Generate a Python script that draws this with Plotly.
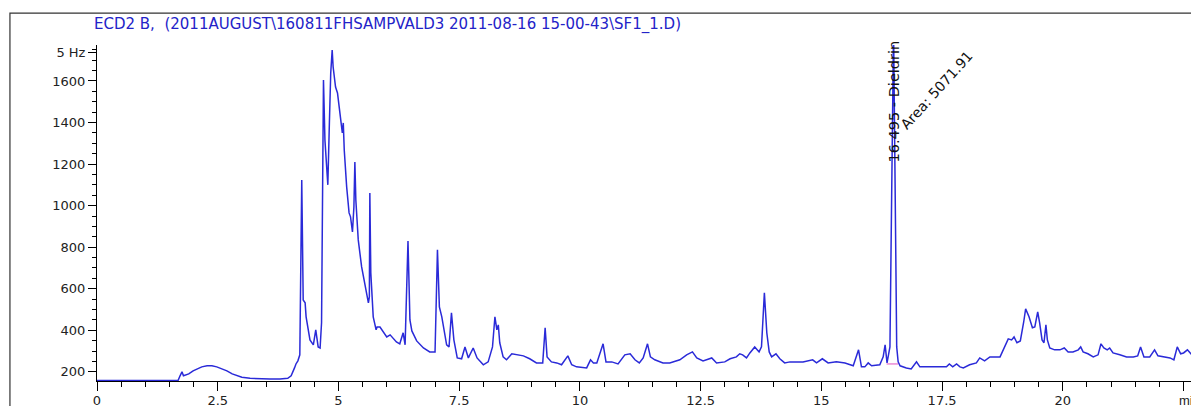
import plotly.graph_objects as go

# Retention time (min) and detector signal (Hz)
time_min = [
    0.00, 1.68, 1.72, 1.76, 1.79, 1.84, 1.90, 1.99, 2.07, 2.17, 2.28, 2.38, 2.48, 2.59, 2.69, 2.80,
    2.90, 3.00, 3.17, 3.37, 3.58, 3.79, 3.95, 4.02, 4.06, 4.09, 4.12, 4.16, 4.20, 4.24, 4.27, 4.31,
    4.33, 4.37, 4.41, 4.48, 4.53, 4.58, 4.62, 4.65, 4.69, 4.72, 4.76, 4.78, 4.81, 4.84, 4.87, 4.89,
    4.94, 4.98, 5.03, 5.08, 5.10, 5.12, 5.17, 5.22, 5.25, 5.29, 5.32, 5.34, 5.36, 5.38, 5.41, 5.48,
    5.55, 5.62, 5.64, 5.65, 5.67, 5.72, 5.78, 5.80, 5.86, 5.93, 6.00, 6.07, 6.13, 6.20, 6.27, 6.34,
    6.38, 6.44, 6.48, 6.52, 6.62, 6.76, 6.89, 7.00, 7.05, 7.09, 7.14, 7.18, 7.24, 7.29, 7.34, 7.39,
    7.46, 7.55, 7.62, 7.69, 7.79, 7.87, 8.00, 8.10, 8.19, 8.24, 8.28, 8.31, 8.34, 8.41, 8.48, 8.59,
    8.69, 8.83, 8.96, 9.10, 9.23, 9.28, 9.32, 9.41, 9.52, 9.62, 9.75, 9.83, 9.93, 10.14, 10.22, 10.28,
    10.35, 10.41, 10.48, 10.54, 10.66, 10.79, 10.93, 11.04, 11.14, 11.23, 11.31, 11.40, 11.46, 11.55,
    11.72, 11.86, 12.07, 12.21, 12.33, 12.42, 12.55, 12.73, 12.83, 13.00, 13.11, 13.24, 13.31, 13.37,
    13.45, 13.52, 13.62, 13.71, 13.76, 13.82, 13.87, 13.92, 13.97, 14.06, 14.14, 14.24, 14.35, 14.49,
    14.62, 14.82, 14.90, 15.02, 15.14, 15.31, 15.49, 15.66, 15.77, 15.83, 15.90, 15.97, 16.04, 16.21,
    16.28, 16.32, 16.36, 16.42, 16.45, 16.495, 16.53, 16.56, 16.59, 16.63, 16.76, 16.86, 16.97, 17.04,
    17.18, 17.38, 17.59, 17.65, 17.72, 17.80, 17.87, 17.94, 18.07, 18.21, 18.28, 18.38, 18.49, 18.70,
    18.80, 18.87, 18.94, 18.99, 19.05, 19.12, 19.19, 19.23, 19.30, 19.37, 19.42, 19.48, 19.52, 19.57,
    19.61, 19.65, 19.68, 19.73, 19.83, 19.94, 20.03, 20.11, 20.21, 20.32, 20.37, 20.42, 20.52, 20.63,
    20.73, 20.79, 20.85, 20.92, 20.97, 21.04, 21.18, 21.32, 21.46, 21.55, 21.61, 21.68, 21.80, 21.90,
    21.97, 22.08, 22.22, 22.30, 22.37, 22.44, 22.50, 22.58, 22.67, 22.74, 22.82,
]
signal_hz = [
    159, 159, 181, 200, 181, 186, 190, 205, 214, 224, 229, 229, 224, 214, 205, 190,
    181, 174, 169, 166, 166, 166, 169, 181, 200, 219, 238, 253, 282, 1123, 546, 532,
    465, 402, 354, 330, 402, 320, 315, 436, 1605, 1316, 1157, 1100, 1378, 1638, 1749, 1667,
    1571, 1542, 1446, 1350, 1398, 1268, 1090, 965, 946, 873, 994, 1210, 1027, 946, 835, 705,
    609, 532, 561, 1061, 676, 465, 402, 416, 416, 392, 368, 378, 364, 344, 335, 388,
    330, 830, 450, 397, 349, 315, 296, 296, 787, 513, 465, 416, 330, 320, 484, 354,
    267, 263, 320, 267, 315, 267, 234, 248, 320, 465, 402, 426, 340, 272, 258, 287,
    282, 277, 263, 243, 243, 412, 272, 248, 243, 234, 277, 234, 224, 219, 258, 243,
    243, 291, 335, 248, 248, 238, 282, 287, 258, 243, 267, 335, 272, 258,
    243, 243, 258, 282, 296, 267, 253, 267, 243, 248, 263, 272, 287, 282,
    267, 291, 320, 296, 320, 580, 388, 296, 272, 287, 263, 243, 248, 248,
    248, 258, 243, 263, 243, 248, 243, 229, 306, 224, 224, 243, 229, 234,
    272, 330, 243, 320, 1027, 1850, 1027, 320, 248, 229, 219, 214, 248, 224,
    224, 224, 224, 238, 224, 238, 224, 219, 234, 243, 267, 253, 272, 272,
    320, 359, 354, 368, 340, 349, 440, 503, 465, 412, 416, 489, 436, 354,
    340, 426, 354, 315, 306, 306, 315, 296, 296, 306, 320, 296, 287, 272,
    282, 335, 315, 306, 315, 291, 282, 272, 272, 277, 320, 272, 272, 306,
    277, 272, 267, 258, 320, 287, 291, 306, 282, 277, 272,
]

# Integration baseline drawn under the Dieldrin peak
baseline_t = [16.35, 16.59]
baseline_v = [238, 238]

# Axis ticks
x_tick_vals = [0, 2.5, 5, 7.5, 10, 12.5, 15, 17.5, 20, 22.5]
x_tick_text = ["0", "2.5", "5", "7.5", "10", "12.5", "15", "17.5", "20", ""]
y_tick_vals = [200, 400, 600, 800, 1000, 1200, 1400, 1600, 1735]
y_tick_text = ["200", "400", "600", "800", "1000", "1200", "1400", "1600", "5 Hz"]

peak_time = 16.495
peak_label = "16.495 - Dieldrin"
area_label = "Area: 5071.91"
title_text = "ECD2 B,  (2011AUGUST\\160811FHSAMPVALD3 2011-08-16 15-00-43\\SF1_1.D)"

FONT = "DejaVu Sans, Liberation Sans, Arial, sans-serif"

fig = go.Figure()
fig.add_trace(go.Scatter(
    x=time_min, y=signal_hz, mode="lines",
    line=dict(color="#2a2ad8", width=1.5), hoverinfo="skip", showlegend=False,
))
fig.add_trace(go.Scatter(
    x=baseline_t, y=baseline_v, mode="lines",
    line=dict(color="#e050c0", width=1), hoverinfo="skip", showlegend=False,
))

# The page body adds an 8 px offset, so the figure is sized/positioned to compensate
fig.update_layout(
    width=1191, height=398,
    margin=dict(l=89, r=0, t=37, b=25),
    paper_bgcolor="white", plot_bgcolor="white",
    font=dict(family=FONT, size=13, color="#222"),
    showlegend=False,
)
fig.update_xaxes(
    range=[0, 22.82], showgrid=False, zeroline=False,
    showline=True, linecolor="black", linewidth=1,
    tickmode="array", tickvals=x_tick_vals, ticktext=x_tick_text,
    ticks="outside", ticklen=9, tickcolor="black", tickwidth=1,
    minor=dict(tickmode="linear", tick0=0, dtick=0.5, ticks="outside", ticklen=5,
               tickcolor="black", tickwidth=1),
    tickfont=dict(family=FONT, size=13, color="#222"),
    ticklabelstandoff=-2,
    automargin=False,
)
fig.update_yaxes(
    range=[156, 1773], showgrid=False, zeroline=False,
    showline=True, linecolor="black", linewidth=1,
    tickmode="array", tickvals=y_tick_vals, ticktext=y_tick_text,
    ticks="outside", ticklen=8, tickcolor="black", tickwidth=1,
    minor=dict(tickmode="linear", tick0=0, dtick=50, ticks="outside", ticklen=4,
               tickcolor="black", tickwidth=1),
    tickfont=dict(family=FONT, size=13, color="#222"),
    automargin=False,
)

# Outer frame of the report panel
fig.add_shape(type="rect", xref="paper", yref="paper",
              x0=-0.079, y0=-0.3, x1=1.05, y1=1.095,
              line=dict(color="#333", width=1.2), layer="above")

fig.add_annotation(text=title_text, xref="paper", yref="paper",
                   x=-0.0045, y=1.06, xanchor="left", yanchor="middle",
                   showarrow=False, font=dict(family=FONT, size=15, color="#2323c8"))
fig.add_annotation(text="min", xref="x", yref="paper", x=22.36, y=-0.03,
                   xanchor="left", yanchor="top", showarrow=False,
                   font=dict(family="Liberation Sans, Arial, sans-serif", size=13, color="#222"))
fig.add_annotation(text=peak_label, x=peak_time, y=1499, textangle=-90,
                   xanchor="center", yanchor="middle", showarrow=False,
                   font=dict(family=FONT, size=14.5, color="#111"))
fig.add_annotation(text=area_label, x=17.39, y=1556, textangle=-48,
                   xanchor="center", yanchor="middle", showarrow=False,
                   font=dict(family=FONT, size=14, color="#111"))

fig.write_html("out.html")
